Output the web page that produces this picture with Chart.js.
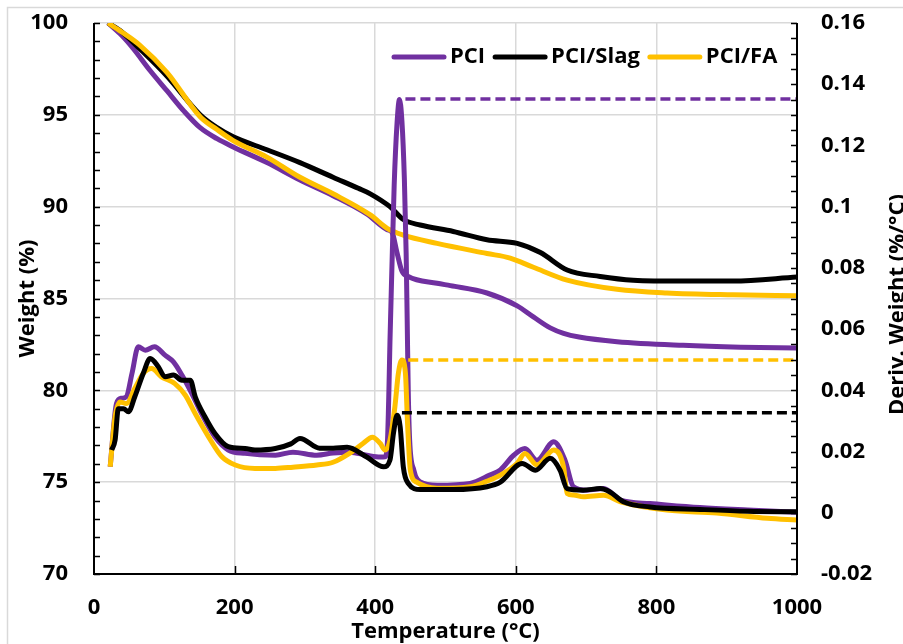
<!DOCTYPE html>
<html lang="en">
<head>
<meta charset="UTF-8">
<title>TGA / DTG – PCI, PCI/Slag, PCI/FA</title>
<script src="https://cdn.jsdelivr.net/npm/chart.js@4.4.0/dist/chart.umd.min.js"></script>
<style>
  html, body { margin: 0; padding: 0; background: #fff; }
  #wrap { width: 903px; height: 644px; }
</style>
</head>
<body>
<div id="wrap"><canvas id="chart" width="903" height="644"></canvas></div>
<script>
// --- values (temperature in °C) ---
// TGA, weight %
const pciTgaT  = [20, 40, 56, 80, 104, 128, 151, 175, 198, 246, 293, 340, 388, 417, 424, 431, 438, 447, 488, 507, 559, 602, 625, 649, 668, 690, 744, 838, 920, 1000];
const pciTgaW  = [100, 99.3, 98.6, 97.4, 96.3, 95.2, 94.3, 93.7, 93.25, 92.4, 91.45, 90.6, 89.6, 88.75, 88.6, 87.5, 86.5, 86.2, 85.83, 85.7, 85.3, 84.6, 84.0, 83.4, 83.1, 82.9, 82.65, 82.45, 82.35, 82.3];
const slagTgaT = [20, 40, 65, 104, 151, 175, 198, 246, 293, 340, 376, 393, 421, 440, 464, 511, 559, 602, 635, 673, 720, 767, 838, 909, 1000];
const slagTgaW = [100, 99.5, 98.6, 97.1, 95.0, 94.3, 93.8, 93.1, 92.4, 91.6, 91.0, 90.7, 90.0, 89.3, 89.0, 88.65, 88.2, 88.0, 87.5, 86.55, 86.2, 86.0, 85.95, 85.95, 86.17];
const faTgaT   = [20, 40, 65, 104, 151, 175, 198, 246, 293, 340, 393, 417, 440, 488, 559, 592, 625, 673, 744, 815, 909, 1000];
const faTgaW   = [100, 99.5, 98.8, 97.3, 94.9, 94.2, 93.6, 92.7, 91.6, 90.7, 89.55, 88.82, 88.45, 88.0, 87.45, 87.2, 86.7, 86.0, 85.5, 85.3, 85.2, 85.15];

// DTG, %/°C
const pciDtgT  = [23, 32, 39, 46, 54, 63, 73, 86, 101, 113, 125, 139, 153, 172, 191, 215, 258, 283, 317, 340, 364, 388, 407, 414, 417.5, 419.5, 421, 424, 427, 431, 434.5, 438, 441.5, 444, 445.5, 447, 449, 455, 464, 488, 535, 563, 578, 597, 613, 630, 654, 670, 682, 701, 725, 749, 791, 862, 930, 1000];
const pciDtgD  = [0.015, 0.0357, 0.0374, 0.0379, 0.0455, 0.0542, 0.0531, 0.0542, 0.0515, 0.0493, 0.045, 0.039, 0.0324, 0.0248, 0.0205, 0.0194, 0.0188, 0.0198, 0.0188, 0.0195, 0.0198, 0.0188, 0.0182, 0.0183, 0.0237, 0.04, 0.056, 0.082, 0.107, 0.127, 0.135, 0.128, 0.109, 0.085, 0.063, 0.04, 0.0237, 0.0139, 0.0101, 0.009, 0.0096, 0.0123, 0.014, 0.0188, 0.021, 0.0172, 0.0232, 0.0172, 0.0085, 0.0074, 0.0079, 0.0041, 0.003, 0.0017, 0.0009, 0.0002];
const slagDtgT = [25, 30, 34.6, 42, 49, 58, 70, 80, 91.5, 101, 113, 125, 137, 144, 158, 172, 191, 215, 229, 258, 280, 293, 321, 340, 360, 388, 412, 421, 426, 431, 435.5, 440, 447, 464, 511, 559, 578, 609, 628, 649, 663, 673, 696, 720, 734, 753, 791, 862, 930, 1000];
const slagDtgD = [0.0205, 0.0237, 0.034, 0.034, 0.033, 0.0379, 0.0455, 0.0504, 0.0477, 0.0444, 0.045, 0.0433, 0.0433, 0.0379, 0.0313, 0.0259, 0.0216, 0.021, 0.0205, 0.021, 0.0225, 0.0243, 0.0211, 0.0211, 0.0214, 0.0182, 0.015, 0.0172, 0.026, 0.0319, 0.0281, 0.015, 0.0096, 0.0076, 0.0076, 0.0085, 0.01, 0.0161, 0.0139, 0.0178, 0.0139, 0.0079, 0.0074, 0.0079, 0.0068, 0.0036, 0.0019, 0.0011, 0.0005, 0.0003];
const faDtgT   = [23, 30, 37, 46, 58, 70, 82, 96, 115, 130, 144, 163, 182, 201, 229, 258, 283, 317, 340, 364, 383, 396, 407, 414, 421, 428, 433, 438, 443, 446, 450, 459, 488, 535, 563, 578, 602, 613, 630, 654, 668, 673, 682, 696, 725, 749, 815, 886, 958, 1000];
const faDtgD   = [0.015, 0.0313, 0.0362, 0.0357, 0.0406, 0.0455, 0.0471, 0.0444, 0.0422, 0.0384, 0.0324, 0.0248, 0.0183, 0.0156, 0.0145, 0.0145, 0.0149, 0.0156, 0.0165, 0.0195, 0.0227, 0.0247, 0.0227, 0.0205, 0.0237, 0.0346, 0.0456, 0.0499, 0.0456, 0.0293, 0.0139, 0.01, 0.008, 0.0085, 0.0107, 0.0123, 0.0162, 0.0194, 0.0156, 0.0205, 0.0149, 0.0063, 0.0058, 0.0052, 0.0057, 0.0036, 0.0009, -0.0001, -0.0018, -0.0024];

// dashed peak markers: start temperature and DTG level (PCI, PCI/Slag, PCI/FA)
const markerStart = [443, 438, 447];
const markerLevel = [0.1352, 0.0327, 0.0499];

const seriesNames  = ["PCI", "PCI/Slag", "PCI/FA"];
const seriesColors = ["#7030A0", "#000000", "#FFC000"];

const FONT = "'Open Sans', Lato, sans-serif";
const pts = (xs, ys) => xs.map((x, i) => ({ x, y: ys[i] }));

const curve = (label, color, data, axis, order) => ({
  label, data, yAxisID: axis, order,
  borderColor: color, backgroundColor: color,
  borderWidth: 5, pointRadius: 0, borderJoinStyle: "round",
  cubicInterpolationMode: "monotone",
});
const marker = (i) => ({
  label: seriesNames[i] + " peak",
  data: [{ x: markerStart[i], y: markerLevel[i] }, { x: 1000, y: markerLevel[i] }],
  yAxisID: "y2", order: 0,
  borderColor: seriesColors[i], borderWidth: 3.5, borderDash: [10, 5], pointRadius: 0,
});

const datasets = [
  curve(seriesNames[0], seriesColors[0], pts(pciTgaT, pciTgaW), "y", 6),
  curve(seriesNames[1], seriesColors[1], pts(slagTgaT, slagTgaW), "y", 5),
  curve(seriesNames[2], seriesColors[2], pts(faTgaT, faTgaW), "y", 4),
  curve(seriesNames[0] + " DTG", seriesColors[0], pts(pciDtgT, pciDtgD), "y2", 3),
  curve(seriesNames[2] + " DTG", seriesColors[2], pts(faDtgT, faDtgD), "y2", 2),
  curve(seriesNames[1] + " DTG", seriesColors[1], pts(slagDtgT, slagDtgD), "y2", 1),
  marker(0), marker(1), marker(2),
];

// frame, inward tick marks, axis titles and the in-plot legend
const decor = {
  id: "decor",
  beforeDraw(chart) {
    const c = chart.ctx;
    c.save();
    c.fillStyle = "#fff";
    c.fillRect(0, 0, chart.width, chart.height);
    c.strokeStyle = "#d9d9d9";
    c.lineWidth = 1.5;
    c.strokeRect(7.5, 7.5, chart.width, chart.height);
    c.restore();
  },
  afterDraw(chart) {
    const c = chart.ctx, a = chart.chartArea;
    const { x, y, y2 } = chart.scales;
    c.save();
    c.strokeStyle = "#000";
    c.lineWidth = 2;
    c.beginPath();
    c.moveTo(a.left, a.top); c.lineTo(a.left, a.bottom);
    c.moveTo(a.right, a.top); c.lineTo(a.right, a.bottom);
    c.moveTo(a.left - 1, a.bottom); c.lineTo(a.right + 1, a.bottom);
    c.stroke();

    c.lineWidth = 1.5;
    c.beginPath();
    for (let v = 70; v <= 100; v += 1) {
      const py = Math.round(y.getPixelForValue(v)) + 0.5;
      c.moveTo(a.left, py); c.lineTo(a.left + 6, py);
    }
    for (let k = 0; k <= 36; k++) {
      const py = Math.round(y2.getPixelForValue(-0.02 + k * 0.005)) + 0.5;
      c.moveTo(a.right - 6, py); c.lineTo(a.right, py);
    }
    for (let v = 200; v < 1000; v += 200) {
      const px = Math.round(x.getPixelForValue(v)) + 0.5;
      c.moveTo(px, a.bottom); c.lineTo(px, a.bottom - 8);
    }
    c.stroke();

    // axis titles
    c.fillStyle = "#000";
    c.font = "bold 22px " + FONT;
    c.textAlign = "center";
    c.textBaseline = "alphabetic";
    c.fillText("Temperature (°C)", (a.left + a.right) / 2, 638);
    const cy = (a.top + a.bottom) / 2;
    c.save();
    c.translate(34, cy); c.rotate(-Math.PI / 2);
    c.fillText("Weight (%)", 0, 0);
    c.restore();
    c.save();
    c.translate(904, cy + 6); c.rotate(-Math.PI / 2);
    c.fillText("Deriv. Weight (%/°C)", 0, 0);
    c.restore();

    // legend
    let lx = 392;
    const ly = 57;
    c.textAlign = "left";
    c.textBaseline = "middle";
    c.lineCap = "round";
    seriesNames.forEach((name, i) => {
      c.strokeStyle = seriesColors[i];
      c.lineWidth = 5;
      c.beginPath(); c.moveTo(lx + 2, ly); c.lineTo(lx + 52, ly); c.stroke();
      lx += 58;
      c.fillText(name, lx, ly);
      lx += c.measureText(name).width + 8;
    });
    c.restore();
  },
};

const fitY = (w) => (s) => { s.width = w; s.paddingTop = 0; s.paddingBottom = 0; };

new Chart(document.getElementById("chart"), {
  type: "line",
  data: { datasets },
  plugins: [decor],
  options: {
    responsive: false,
    animation: false,
    events: [],
    layout: { padding: { top: 23, left: 0, right: 0, bottom: 0 } },
    plugins: { legend: { display: false }, tooltip: { enabled: false } },
    scales: {
      x: {
        type: "linear", position: "bottom", min: 0, max: 1000,
        afterFit: (s) => { s.height = 70; s.paddingLeft = 0; s.paddingRight = 0; },
        ticks: { stepSize: 200, padding: 21, color: "#000", font: { family: FONT, size: 22, weight: "bold" }, callback: (v) => String(v) },
        grid: { color: (ctx) => (ctx.tick.value % 1000 === 0 ? "rgba(0,0,0,0)" : "#d9d9d9"), lineWidth: 1.5, drawTicks: false },
        border: { display: false },
      },
      y: {
        type: "linear", position: "left", min: 70, max: 100,
        afterFit: fitY(94),
        ticks: { stepSize: 5, padding: 26, color: "#000", font: { family: FONT, size: 22, weight: "bold" } },
        grid: { color: "#d9d9d9", lineWidth: 1.5, drawTicks: false },
        border: { display: false },
      },
      y2: {
        type: "linear", position: "right", min: -0.02, max: 0.16,
        afterFit: fitY(106),
        ticks: {
          stepSize: 0.02, padding: 24, color: "#000",
          font: { family: FONT, size: 22, weight: "bold" },
          callback: (v) => String(+v.toFixed(2)),
        },
        grid: { display: false, drawTicks: false },
        border: { display: false },
      },
    },
  },
});
</script>
</body>
</html>
